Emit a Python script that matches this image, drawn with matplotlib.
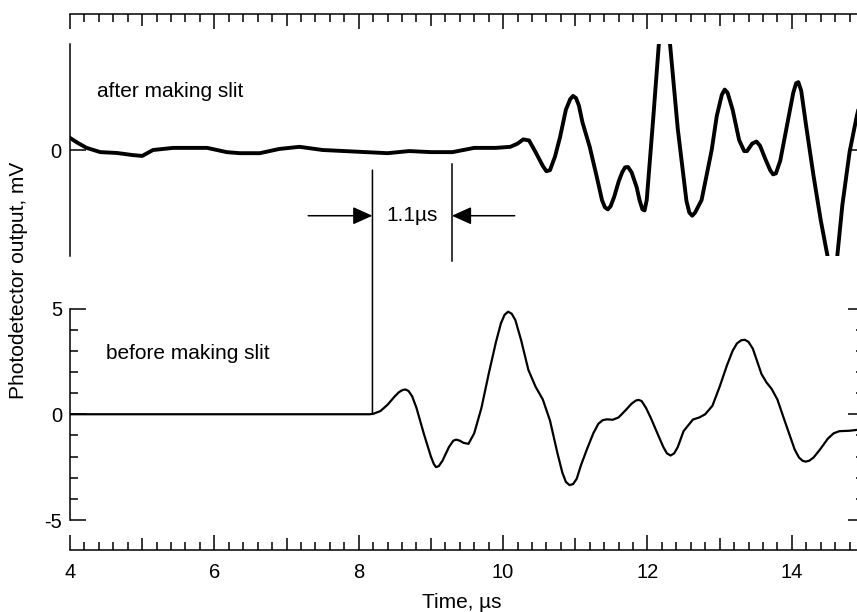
import matplotlib
matplotlib.use('Agg')
import matplotlib.pyplot as plt
from matplotlib.ticker import FixedLocator, FixedFormatter, MultipleLocator
from matplotlib.patches import ConnectionPatch

plt.rcParams['font.family'] = ['Liberation Sans', 'DejaVu Sans']
plt.rcParams['axes.unicode_minus'] = False

# ---------------- data ----------------
t_after = [4.0, 4.1, 4.23, 4.42, 4.65, 4.87, 5.0, 5.15, 5.43, 5.62,
           5.9, 6.17, 6.35, 6.63, 6.9, 7.18, 7.5, 7.8, 8.1, 8.4,
           8.7, 9.0, 9.3, 9.6, 9.9, 10.1, 10.2, 10.28, 10.36, 10.45,
           10.55, 10.6, 10.65, 10.72, 10.79, 10.87, 10.93, 10.97, 11.01, 11.05,
           11.1, 11.2, 11.3, 11.37, 11.41, 11.45, 11.49, 11.54, 11.6, 11.65,
           11.69, 11.73, 11.78, 11.85, 11.89, 11.93, 11.96, 11.99, 12.08, 12.16,
           12.2, 12.27, 12.31, 12.42, 12.54, 12.58, 12.62, 12.66, 12.75, 12.89,
           12.96, 13.03, 13.07, 13.11, 13.18, 13.27, 13.34, 13.38, 13.45, 13.51,
           13.56, 13.63, 13.7, 13.74, 13.78, 13.84, 13.93, 14.02, 14.06, 14.09,
           14.13, 14.2, 14.3, 14.4, 14.5, 14.56, 14.6, 14.63, 14.7, 14.8,
           14.9, 15.0]
v_after = [0.57, 0.35, 0.1, -0.1, -0.14, -0.24, -0.28, 0.0, 0.1, 0.1,
           0.1, -0.1, -0.15, -0.15, 0.05, 0.15, 0.0, -0.05, -0.1, -0.15,
           -0.05, -0.1, -0.1, 0.1, 0.1, 0.15, 0.3, 0.5, 0.45, -0.1,
           -0.75, -1.0, -0.95, -0.3, 0.62, 1.9, 2.4, 2.55, 2.45, 2.1,
           1.3, 0.15, -1.3, -2.36, -2.7, -2.8, -2.65, -2.2, -1.5, -1.05,
           -0.82, -0.8, -1.05, -1.75, -2.36, -2.8, -2.85, -2.36, 1.5, 5.1,
           6.0, 6.0, 5.1, 1.0, -2.4, -2.95, -3.1, -2.95, -2.36, 0.0,
           1.6, 2.6, 2.85, 2.7, 1.9, 0.47, -0.05, -0.05, 0.3, 0.4,
           0.2, -0.4, -0.95, -1.15, -1.1, -0.5, 1.1, 2.7, 3.15, 3.2,
           2.8, 1.1, -1.2, -3.3, -5.1, -6.0, -6.0, -5.0, -2.6, -0.1,
           1.6, 3.0]

t_before = [4.0, 8.15, 8.2, 8.3, 8.4, 8.5, 8.56, 8.61, 8.65, 8.69,
            8.74, 8.8, 8.9, 9.0, 9.04, 9.07, 9.11, 9.16, 9.25, 9.31,
            9.35, 9.4, 9.45, 9.52, 9.6, 9.7, 9.8, 9.9, 9.97, 10.02,
            10.07, 10.12, 10.17, 10.25, 10.35, 10.45, 10.55, 10.65, 10.75, 10.82,
            10.87, 10.92, 10.97, 11.02, 11.08, 11.16, 11.25, 11.32, 11.38, 11.44,
            11.52, 11.6, 11.7, 11.78, 11.84, 11.88, 11.92, 11.98, 12.05, 12.15,
            12.22, 12.27, 12.32, 12.37, 12.42, 12.5, 12.63, 12.72, 12.8, 12.9,
            13.0, 13.1, 13.18, 13.24, 13.3, 13.35, 13.4, 13.46, 13.52, 13.58,
            13.65, 13.72, 13.8, 13.9, 14.04, 14.1, 14.15, 14.19, 14.24, 14.3,
            14.39, 14.5, 14.58, 14.66, 14.8, 15.0]
v_before = [0.0, 0.0, 0.02, 0.15, 0.45, 0.85, 1.05, 1.15, 1.17, 1.1,
            0.85, 0.3, -0.9, -2.0, -2.35, -2.5, -2.45, -2.2, -1.55, -1.25,
            -1.2, -1.25, -1.35, -1.4, -0.9, 0.3, 1.9, 3.4, 4.3, 4.7,
            4.85, 4.75, 4.45, 3.5, 2.1, 1.3, 0.7, -0.3, -1.8, -2.75,
            -3.2, -3.35, -3.3, -3.05, -2.4, -1.67, -0.9, -0.45, -0.28, -0.24,
            -0.26, -0.15, 0.2, 0.5, 0.65, 0.68, 0.62, 0.3, -0.2, -1.0,
            -1.55, -1.85, -1.95, -1.85, -1.55, -0.8, -0.25, -0.15, 0.0, 0.4,
            1.3, 2.3, 3.0, 3.35, 3.5, 3.52, 3.42, 3.1, 2.5, 1.9,
            1.5, 1.2, 0.7, -0.3, -1.67, -2.05, -2.2, -2.24, -2.2, -2.05,
            -1.67, -1.15, -0.9, -0.8, -0.78, -0.7]

x_ticks = [4, 5, 6, 7, 8, 9, 10, 11, 12, 13, 14, 15]
x_tick_labels = ['4', '', '6', '', '8', '', '10', '', '12', '', '14', '']
y_ticks_bottom = [-5, 0, 5]
y_ticks_top = [0]

delay_marks = [8.19, 9.29]          # onset times (µs) marked by vertical lines
delay_label = '1.1\u00b5s'
panel_labels = ['after making slit', 'before making slit']

# ---------------- layout ----------------
W, H = 857, 612
fig = plt.figure(figsize=(W / 100, H / 100), dpi=100)


def px_rect(left, top, right, bottom):
    return [left / W, 1 - bottom / H, (right - left) / W, (bottom - top) / H]


ax_top = fig.add_axes(px_rect(70, 44, 864, 256))
ax_bot = fig.add_axes(px_rect(70, 308.5, 864, 520))

LW_AX = 1.1
MAJ, MED, MIN = 10.8, 8.6, 5.8
FS = 14.5
FS_TXT = 15

for ax in (ax_top, ax_bot):
    ax.set_xlim(4, 15)
    ax.set_ylim(-5, 5)
    for s in ax.spines.values():
        s.set_linewidth(LW_AX)
    ax.spines['right'].set_visible(False)
    ax.xaxis.set_major_locator(FixedLocator(x_ticks))
    ax.xaxis.set_minor_locator(MultipleLocator(0.2))

# top panel
ax_top.spines['bottom'].set_visible(False)
ax_top.spines['top'].set_position(('outward', 21.6))
ax_top.xaxis.set_ticks_position('top')
ax_top.tick_params(axis='x', which='major', direction='in', length=MAJ, width=LW_AX,
                   labeltop=False, labelbottom=False)
ax_top.tick_params(axis='x', which='minor', direction='in', length=MIN, width=LW_AX)
ax_top.yaxis.set_major_locator(FixedLocator(y_ticks_top))
ax_top.tick_params(axis='y', which='major', direction='in', length=11.5, width=LW_AX,
                   left=True, right=True, labelsize=FS, pad=6)

# bottom panel
ax_bot.spines['top'].set_visible(False)
ax_bot.spines['bottom'].set_position(('outward', 21.6))
ax_bot.xaxis.set_ticks_position('bottom')
ax_bot.xaxis.set_major_formatter(FixedFormatter(x_tick_labels))
ax_bot.tick_params(axis='x', which='major', direction='in', length=MAJ, width=LW_AX,
                   labelsize=FS, pad=9.5)
ax_bot.tick_params(axis='x', which='minor', direction='in', length=MIN, width=LW_AX)
ax_bot.yaxis.set_major_locator(FixedLocator(y_ticks_bottom))
ax_bot.yaxis.set_minor_locator(MultipleLocator(1))
ax_bot.tick_params(axis='y', which='major', direction='in', length=11.5, width=LW_AX,
                   left=True, right=True, labelsize=FS, pad=5.5)
ax_bot.tick_params(axis='y', which='minor', direction='in', length=MIN, width=LW_AX,
                   left=True, right=True)

# medium-length ticks at odd integers
for ax, attr in ((ax_top, 'tick2line'), (ax_bot, 'tick1line')):
    for val, tk in zip(x_ticks, ax.xaxis.get_major_ticks()):
        if val % 2:
            getattr(tk, attr).set_markersize(MED)

# ---------------- traces ----------------
ax_top.plot(t_after, v_after, color='black', lw=2.8, solid_joinstyle='round')
ax_bot.plot(t_before, v_before, color='black', lw=1.6, solid_joinstyle='round')

# panel labels
ax_top.text(4.38, 2.78, panel_labels[0], fontsize=FS_TXT, ha='left', va='center')
ax_bot.text(4.5, 2.85, panel_labels[1], fontsize=FS_TXT, ha='left', va='center')

# ---------------- delay annotation ----------------
con = ConnectionPatch(xyA=(delay_marks[0], -0.95), coordsA=ax_top.transData,
                      xyB=(delay_marks[0], 0.0), coordsB=ax_bot.transData,
                      color='black', lw=1.1)
fig.add_artist(con)
ax_top.plot([delay_marks[1], delay_marks[1]], [-0.67, -5.24], color='black', lw=1.1,
            clip_on=False)

arrow_y = -3.1
astyle = dict(arrowstyle='-|>,head_length=0.6,head_width=0.27', mutation_scale=20,
              color='black', lw=1.1, shrinkA=0, shrinkB=0)
ax_top.annotate('', xy=(delay_marks[0], arrow_y), xytext=(7.30, arrow_y),
                arrowprops=astyle, annotation_clip=False)
ax_top.annotate('', xy=(delay_marks[1], arrow_y), xytext=(10.16, arrow_y),
                arrowprops=astyle, annotation_clip=False)
ax_top.text((delay_marks[0] + delay_marks[1]) / 2, arrow_y, delay_label, fontsize=FS_TXT,
            ha='center', va='center')

# axis titles
fig.text(19 / W, 1 - 280 / H, 'Photodetector output, mV', rotation=90, fontsize=FS_TXT,
         ha='center', va='center')
fig.text(462 / W, 1 - 602 / H, 'Time, \u00b5s', fontsize=FS_TXT, ha='center', va='center')

fig.savefig('out.png', dpi=100)
